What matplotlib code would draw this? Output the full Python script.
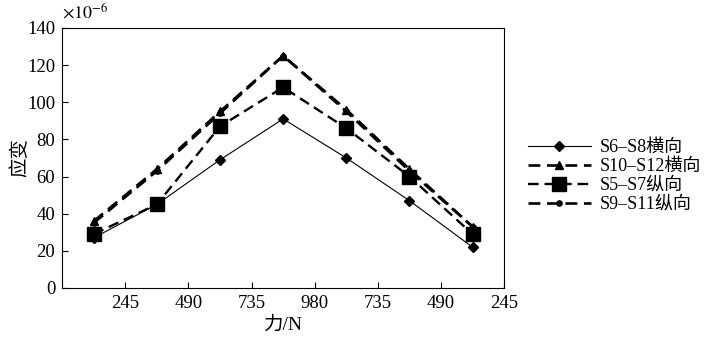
import numpy as np
import matplotlib
import matplotlib.pyplot as plt

matplotlib.rcParams.update({
    'font.family': ['Liberation Serif', 'Noto Sans CJK SC'],
    'mathtext.fontset': 'stix',
})

# data
loads = ['245', '490', '735', '980', '735', '490', '245']
s6_s8 = [27, 45, 69, 91, 70, 47, 22]
s10_s12 = [36, 64, 95, 125, 96, 64, 33]
s5_s7 = [29, 45, 87, 108, 86, 60, 29]
s9_s11 = [35, 63, 94, 125, 95, 63, 33]
labels = ['S6–S8横向', 'S10–S12横向', 'S5–S7纵向', 'S9–S11纵向']

x = np.arange(len(s6_s8))

fig = plt.figure(figsize=(7.07, 3.4), dpi=100)
ax = fig.add_axes([0.088, 0.153, 0.625, 0.765])

dash = (0, (4.5, 2.5))
ax.plot(x, s6_s8, color='k', lw=0.8, marker='D', ms=5.5, label=labels[0])
ax.plot(x, s10_s12, color='k', lw=1.9, ls=dash, marker='^', ms=5.5, label=labels[1])
ax.plot(x, s5_s7, color='k', lw=1.7, ls=dash, marker='s', ms=10, label=labels[2])
ax.plot(x, s9_s11, color='k', lw=1.9, ls=dash, marker='o', ms=3.8, label=labels[3])

ax.set_xlim(-0.5, 6.5)
ax.set_ylim(0, 140)
ax.set_xticks(x + 0.5)
ax.set_xticklabels(loads)
ax.set_yticks(np.arange(0, 141, 20))
ax.tick_params(direction='in', labelsize=13.5, length=4, width=0.8, pad=5)
for s in ax.spines.values():
    s.set_linewidth(0.8)

ax.set_xlabel('力/N', fontsize=14, labelpad=3)
ax.set_ylabel('应变', fontsize=14)
ax.yaxis.set_label_coords(-0.075, 0.5)
ax.text(0.0, 1.02, r'$\times 10^{-6}$', transform=ax.transAxes, fontsize=13,
        ha='left', va='bottom')

ax.legend(loc='center left', bbox_to_anchor=(1.037, 0.43), frameon=False,
          fontsize=13, handlelength=3.5, handletextpad=0.5, labelspacing=0.1,
          borderaxespad=0)

plt.savefig('out.png', dpi=100)
